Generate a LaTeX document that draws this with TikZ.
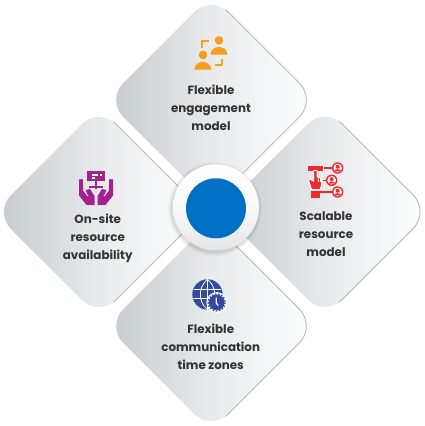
\documentclass[tikz,border=0pt]{standalone}
\usepackage{fontspec}
\setmainfont{Poppins}[BoldFont={Poppins Bold}]
\usetikzlibrary{calc}
\definecolor{ink}{HTML}{333333}
\definecolor{orangeicon}{HTML}{F5A01C}
\definecolor{redicon}{HTML}{EE2A30}
\definecolor{purpleicon}{HTML}{A3238E}
\definecolor{blueicon}{HTML}{354A9F}
\definecolor{hub}{HTML}{0070C5}
\definecolor{petalL}{HTML}{C4CACE}
\definecolor{petalM}{HTML}{E8EAEC}
\definecolor{rim}{HTML}{B8B8B8}
\tikzset{
  petaltext/.style={text=ink,align=center,inner sep=0pt,font=\bfseries\fontsize{11.9}{18}\selectfont},
  petalfill/.style={rounded corners=24pt,left color=petalL,right color=white,middle color=petalM},
  petalrim/.style={rounded corners=24pt,draw=rim,line width=0.9pt},
  slit/.style={draw=white,line width=0.8pt},
}
\newcommand{\petalpath}[1]{($(#1)+(0,-105)$) -- ($(#1)+(105,0)$) -- ($(#1)+(0,105)$) -- ($(#1)+(-105,0)$) -- cycle}
\newcommand{\botperson}[1]{%
  \fill[redicon] (#1) circle (5.7);
  \fill[white] (#1) circle (4.3);
  \fill[redicon] ($(#1)+(0,-1.2)$) circle (2);
  \fill[redicon] ($(#1)+(-3.5,3.4)$) .. controls ($(#1)+(-3,0.4)$) and ($(#1)+(3,0.4)$) .. ($(#1)+(3.5,3.4)$) -- cycle;
}
\begin{document}
\begin{tikzpicture}[x=1pt,y=-1pt]
\useasboundingbox (0,0) rectangle (424,426);
\coordinate (ptop) at (211.3,100);
\coordinate (pright) at (325,211.7);
\coordinate (pleft) at (99,212);
\coordinate (pbottom) at (211.3,326);
\foreach \p in {ptop,pright,pleft,pbottom}{
  \path[petalfill] \petalpath{\p};
  \begin{scope}
    \clip ($(\p)+(14,-120)$) rectangle ($(\p)+(120,120)$);
    \path[petalrim] \petalpath{\p};
  \end{scope}
}
% hub
\foreach \r/\o in {47/0.025,46/0.03,45/0.035,44/0.04}{
  \fill[black,opacity=\o] (215,209) circle (\r);
}
\path[top color=white,bottom color=white!80!gray,middle color=white!96!gray] (216,207.4) circle (43);
\node[circle,fill=hub,minimum size=60pt,inner sep=0pt] (hubdot) at (216,208.3) {};
% labels
\node[petaltext] (ltop) at (211,107.6) {Flexible\\engagement\\model};
\node[petaltext] (lright) at (326,233.7) {Scalable\\resource\\model};
\node[petaltext] (lleft) at (97.7,238) {On-site\\resource\\availability};
\node[petaltext] (lbottom) at (210.7,346.6) {Flexible\\communication\\time zones};
% orange icon
\fill[orangeicon] (219,40.3) circle (4.3);
\fill[orangeicon] (210.5,54.5) .. controls (211,44.5) and (227,44.5) .. (227.5,54.5) -- cycle;
\fill[orangeicon] (203,55) circle (4.3);
\fill[orangeicon] (194.3,69.7) .. controls (194.8,59.3) and (210.8,59.3) .. (211.3,69.7) -- cycle;
\draw[orangeicon,line width=2.2pt,line join=round] (209.3,40.7) -- (202,40.7) -- (202,47.7);
\draw[orangeicon,line width=2.2pt,line join=round] (222.3,59) -- (222.3,65.3) -- (214.7,65.3);
% red icon
\fill[redicon] (307.7,165.5) rectangle (323.3,171.3);
\draw[redicon,line width=1.6pt] (324,168) -- (332,168);
\draw[redicon,line width=1.6pt] (322.7,180.3) -- (326,180.3);
\draw[redicon,line width=1.6pt] (320,192) -- (332,192);
\coordinate (pa) at (337.7,168);
\coordinate (pb) at (331.7,180.3);
\coordinate (pc) at (337.7,192);
\botperson{pa}\botperson{pb}\botperson{pc}
\fill[redicon] (311.3,191) rectangle (320,197.7);
\draw[white,line width=0.8pt,fill=redicon,line join=round]
  (313.8,170.5) -- (316.9,170.5) -- (316.9,177) -- (321.6,177.8) -- (321.6,184) -- (320.4,189.6) -- (311.6,189.6) -- (308.8,181) -- (309.6,178.8) -- (313.8,181.5) -- cycle;
\draw[white,line width=0.5pt] (318.4,178) -- (318.4,182) (320,178.3) -- (320,182);
% purple icon
\fill[purpleicon] (87.3,171) rectangle (105,180.7);
\draw[white,line width=1.2pt] (92,175) -- (98,175) (100,175) -- (102,175) (92,178) -- (95,178);
\fill[purpleicon] (95.2,180.7) rectangle (97.4,189);
\fill[purpleicon] (89.3,185.5) rectangle (103.3,188);
\foreach \s in {1,-1}{
  \begin{scope}[shift={(96,0)},xscale=\s]
    \fill[purpleicon] (-17,179.5) -- (-13.3,179) -- (-12.7,190) -- (-8,195.5) -- (-10.5,190) -- (-6,189) -- (-1.5,196) -- (-1.5,205) -- (-9.5,205) -- (-17,195.5) -- cycle;
    \draw[slit] (-12.7,190) -- (-8,196);
  \end{scope}
}
% blue icon
\fill[blueicon] (207.5,294.5) circle (15.2);
\draw[white,line width=0.8pt] (207.5,279.3) -- (207.5,309.7);
\draw[white,line width=0.8pt] (193.6,289) -- (221.4,289);
\draw[white,line width=0.8pt] (193,298.5) -- (222,298.5);
\draw[white,line width=0.8pt] (207.5,279.3) .. controls (198,287) and (198,302) .. (207.5,309.7);
\draw[white,line width=0.8pt] (207.5,279.3) .. controls (217,287) and (217,302) .. (207.5,309.7);
\fill[white] (216.7,302.5) circle (10.4);
\fill[blueicon] (216.7,302.5) circle (7.9);
\draw[blueicon,line width=1.2pt,dash pattern=on 1.6pt off 1.6pt] (216.7,302.5) circle (8.6);
\draw[white,line width=1.3pt] (216.3,297.5) -- (216.3,303) -- (218.2,305.5);
\end{tikzpicture}
\end{document}
